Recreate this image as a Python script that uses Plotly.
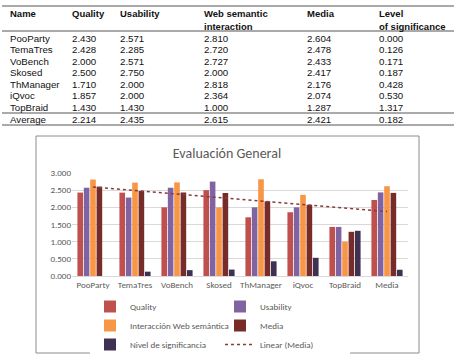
import numpy as np
import plotly.graph_objects as go

# ---------------- data ----------------
names = ["PooParty", "TemaTres", "VoBench", "Skosed", "ThManager", "iQvoc", "TopBraid"]
quality = [2.430, 2.428, 2.000, 2.500, 1.710, 1.857, 1.430]
usability = [2.571, 2.285, 2.571, 2.750, 2.000, 2.000, 1.430]
web_semantic = [2.810, 2.720, 2.727, 2.000, 2.818, 2.364, 1.000]
media = [2.604, 2.478, 2.433, 2.417, 2.176, 2.074, 1.287]
significance = [0.000, 0.126, 0.171, 0.187, 0.428, 0.530, 1.317]
average_row = [2.214, 2.435, 2.615, 2.421, 0.182]

header_line1 = ["Name", "Quality", "Usability", "Web semantic", "Media", "Level"]
header_line2 = ["", "", "", "interaction", "", "of significance"]

chart_categories = names + ["Media"]
series_names = ["Quality", "Usability", "Interacción Web semántica", "Media", "Nivel de significancia"]
series_values = [
    quality + [average_row[0]],
    usability + [average_row[1]],
    web_semantic + [average_row[2]],
    media + [average_row[3]],
    significance + [average_row[4]],
]
series_colors = ["#C0504D", "#8064A2", "#F79646", "#772C2A", "#3F3151"]
chart_title = "Evaluación General"
y_ticks = [0, 0.5, 1.0, 1.5, 2.0, 2.5, 3.0]

# ---------------- layout geometry ----------------
W, H = 456, 355
ML, MR, MT, MB = 72, 48, 173, 79
PW, PH = W - ML - MR, H - MT - MB


def px(x):
    return (x - ML) / PW


def py(y):
    return (H - MB - y) / PH


fig = go.Figure()

for name, vals, col in zip(series_names, series_values, series_colors):
    fig.add_trace(go.Bar(x=chart_categories, y=vals, name=name, marker_color=col,
                         marker_line_width=0))

# linear trendline of the "Media" series (as Excel computes it)
media_series = series_values[3]
xi = np.arange(1, len(media_series) + 1)
slope, intercept = np.polyfit(xi, media_series, 1)
trend = slope * xi + intercept
fig.add_trace(go.Scatter(x=chart_categories, y=trend, mode="lines", name="Linear (Media)",
                         line=dict(color="#8B3A3A", width=1.5, dash="dot")))

chart_font = "Carlito, Lato, sans-serif"
fig.update_layout(
    width=W, height=H,
    margin=dict(l=ML, r=MR, t=MT, b=MB, autoexpand=False),
    paper_bgcolor="white", plot_bgcolor="white",
    barmode="group", bargap=0.24, bargroupgap=0.12,
    font=dict(family=chart_font, size=9, color="#595959"),
    title=dict(text=chart_title, x=227 / W, xanchor="center", y=1 - 153 / H, yanchor="middle",
               font=dict(family=chart_font, size=14, color="#595959")),
    xaxis=dict(showgrid=False, showline=True, linecolor="#D9D9D9", ticks="",
               tickfont=dict(size=9, color="#595959"), fixedrange=True),
    yaxis=dict(range=[0, 3.0], tickvals=y_ticks, tickformat=".3f", showgrid=True,
               gridcolor="#D9D9D9", zeroline=False, showline=False, ticks="",
               tickfont=dict(size=9, color="#595959")),
    legend=dict(orientation="h", x=px(90), xanchor="left", y=py(292), yanchor="top",
                entrywidth=85, entrywidthmode="pixels", traceorder="normal",
                font=dict(size=9, color="#595959"), itemwidth=30, tracegroupgap=0),
    showlegend=True,
)

# chart border
fig.add_shape(type="rect", xref="paper", yref="paper", x0=px(36), x1=px(419), y0=py(353), y1=py(136),
              line=dict(color="#8C8C8C", width=1), fillcolor="rgba(0,0,0,0)", layer="below")

# ---------------- table ----------------
col_x = [8, 70, 118, 202, 305, 377]
tfont = dict(family="Liberation Sans, Arial, sans-serif", size=9.7, color="#111111")
hfont = dict(family="Liberation Sans, Arial, sans-serif", size=9.5, color="#111111")
for hx, h1, h2 in zip(col_x, header_line1, header_line2):
    fig.add_annotation(x=px(hx), y=py(14), xref="paper", yref="paper", text="<b>%s</b>" % h1,
                       showarrow=False, xanchor="left", yanchor="middle", font=hfont)
    if h2:
        fig.add_annotation(x=px(hx), y=py(26), xref="paper", yref="paper", text="<b>%s</b>" % h2,
                           showarrow=False, xanchor="left", yanchor="middle", font=hfont)

row_y = [38, 49.5, 61, 72.5, 84, 95.5, 107]
for i, nm in enumerate(names):
    vals = [quality[i], usability[i], web_semantic[i], media[i], significance[i]]
    cells = [nm] + ["%.3f" % v for v in vals]
    for cx, txt in zip(col_x, cells):
        fig.add_annotation(x=px(cx), y=py(row_y[i]), xref="paper", yref="paper", text=txt,
                           showarrow=False, xanchor="left", yanchor="middle", font=tfont)

avg_cells = ["Average"] + ["%.3f" % v for v in average_row]
for cx, txt in zip(col_x, avg_cells):
    fig.add_annotation(x=px(cx), y=py(119), xref="paper", yref="paper", text=txt,
                       showarrow=False, xanchor="left", yanchor="middle", font=tfont)

for ly in [6, 31, 113, 125]:
    fig.add_shape(type="line", xref="paper", yref="paper", x0=px(2), x1=px(454), y0=py(ly), y1=py(ly),
                  line=dict(color="#555555", width=1))

fig.write_html("out.html")
